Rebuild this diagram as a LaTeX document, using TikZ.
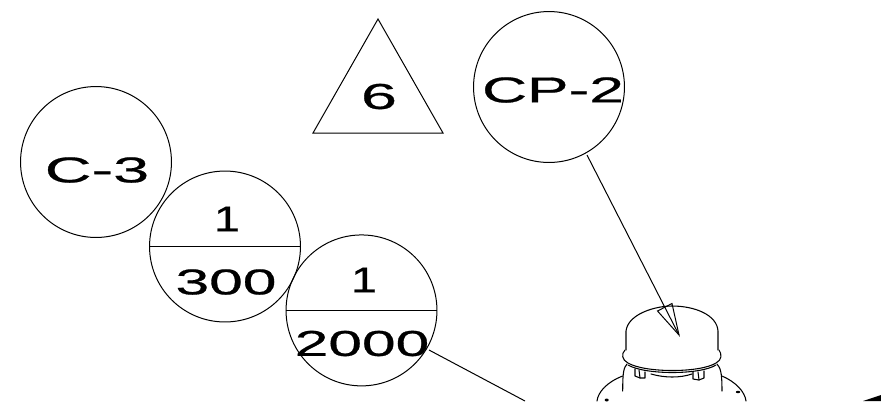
\documentclass[tikz,border=0pt]{standalone}
\usepackage{fontspec}
\newfontfamily\lblfont[FakeBold=0.5]{Liberation Sans}
\tikzset{
  x=0.75pt,y=-0.75pt,
  ring/.style={circle,draw=black,line width=0.75pt,minimum size=113.2pt,inner sep=0pt},
  lbl/.style={inner sep=0pt,font=\lblfont\fontsize{27}{27}\selectfont},
  thin line/.style={line width=0.75pt,black},
  dev/.style={line width=0.8pt,black,line cap=round,line join=round}
}
\newcommand{\wide}[2][1.7]{\scalebox{#1}[1]{#2}}
\begin{document}
\begin{tikzpicture}
\useasboundingbox (0,0) rectangle (881,401);
\clip (0,0) rectangle (881,401);
\node[ring] (c3) at (96,162) {};
\node[ring] (a) at (225,246.5) {};
\node[ring] (b) at (361.5,310.4) {};
\node[ring] (cp) at (549,87) {};
\draw[thin line] (a.west) -- (a.east);
\draw[thin line] (b.west) -- (b.east);
\node[lbl] (tc3) at (97,170) {\wide[1.8]{C-3}};
\node[lbl] (ta1) at (227,219) {\wide[1.3]{1}};
\node[lbl] (ta2) at (226,282) {\wide[1.68]{300}};
\node[lbl] (tb1) at (364,280) {\wide[1.3]{1}};
\node[lbl] (tb2) at (362,343.5) {\wide[1.68]{2000}};
\node[lbl] (tcp) at (553,90) {\wide[1.73]{CP-2}};
\coordinate (t1) at (378,19);
\coordinate (t2) at (313,133);
\coordinate (t3) at (443,133);
\draw[thin line] (t1) -- (t2) -- (t3) -- cycle;
\node[lbl] (t6) at (379,96.5) {\wide[1.8]{6}};
\coordinate (tipcp) at (679,335);
\coordinate (endb) at (525,401);
\coordinate (al) at (657.5,311);
\coordinate (ar) at (672,303.5);
\draw[thin line] (cp) ++(38,68) -- (tipcp);
\draw[thin line] (al) -- (tipcp) -- (ar) -- cycle;
\draw[thin line] (429,350) -- (endb);
% device
\draw[dev] (626,350) -- (626,331) .. controls (628,314) and (655,306) .. (672,306) .. controls (695,306) and (717,315) .. (718,331) -- (718,350);
\draw[dev] (625,350) .. controls (621,354) and (622,360) .. (628,363) .. controls (645,373) and (700,373) .. (716,363) .. controls (722,360) and (722,354) .. (719,350);
\draw[dev] (628,365) .. controls (645,375) and (700,375) .. (716,365);
\draw[dev] (651,374) .. controls (665,378) and (680,378) .. (692,374);
\draw[dev] (627,364) .. controls (624,368) and (622.7,370) .. (622.7,391);
\draw[dev] (717,364) .. controls (720,368) and (722,370) .. (722,391);
\draw[dev] (622.7,376) .. controls (607,382) and (598,392) .. (597,401);
\draw[dev] (722,376) .. controls (736,382) and (745,392) .. (746,401);
\draw[dev] (635,369) -- (635,376) -- (640,378) -- (645,378) -- (645,372);
\draw[dev] (639,370) -- (640,378);
\draw[dev] (693,372) -- (693,379) -- (699,380) -- (704,378) -- (704,371);
\draw[dev] (698,372) -- (699,380);
\fill (606.7,400) ellipse (2 and 1.5);
\fill (738,392) ellipse (2.2 and 1.2);
\fill (863,401) -- (881,395) -- (881,401) -- cycle;
\end{tikzpicture}
\end{document}
